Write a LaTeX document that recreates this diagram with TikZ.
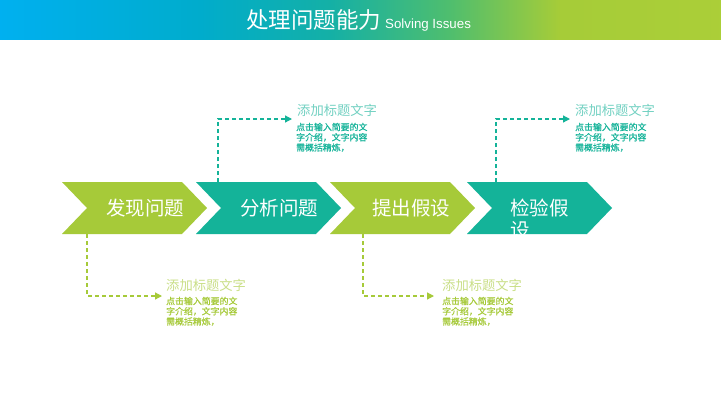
\documentclass[tikz,border=0pt]{standalone}
\usepackage{fontspec}
\setmainfont{Liberation Sans}
\newfontfamily\cjk{Noto Sans CJK SC}
\newfontfamily\cjkb[FakeBold=0.6]{Noto Sans CJK SC}
\usetikzlibrary{arrows.meta}
\definecolor{cgreen}{RGB}{166,202,57}
\definecolor{cteal}{RGB}{20,179,153}
\pgfdeclarehorizontalshading{hdr}{100bp}{rgb(0bp)=(0,0.69,0.94); rgb(25bp)=(0,0.69,0.94); rgb(38.9bp)=(0,0.675,0.80); rgb(47.9bp)=(0.08,0.69,0.65); rgb(56.2bp)=(0.31,0.745,0.43); rgb(63.8bp)=(0.65,0.80,0.22); rgb(75bp)=(0.67,0.81,0.22); rgb(100bp)=(0.67,0.81,0.22)}
\begin{document}
\begin{tikzpicture}[x=1pt,y=-1pt,
  chevlabel/.style={anchor=base west, inner sep=0pt, text=white, align=left, font=\cjk\fontsize{19.5}{22}\selectfont},
  conn/.style={draw=#1, dash pattern=on 4pt off 3pt, line width=1.2pt, -{Triangle[length=7pt,width=7pt,fill=#1]}},
  ttl/.style={anchor=base west, inner sep=0pt, text=#1, font=\cjk\fontsize{13.3}{16}\selectfont},
  body/.style={anchor=base west, inner sep=0pt, text=#1, align=left, font=\cjkb\fontsize{8.9}{10.2}\selectfont}]
\useasboundingbox (0,0) rectangle (721,405);
\fill[white] (0,0) rectangle (721,405);
% header
\shade[shading=hdr] (0,0) rectangle (721,39);
\node[anchor=base west, inner sep=0pt, text=white] (title) at (246,28)
  {{\cjk\fontsize{22.5}{26}\selectfont 处理问题能力}\hspace{4pt}{\fontsize{13.3}{16}\selectfont Solving Issues}};
% chevrons
\foreach \L/\c in {62/cgreen,196/cteal,330/cgreen,467/cteal}{
  \fill[\c] (\L,182) -- ++(120,0) -- ++(25,26) -- ++(-25,26) -- ++(-120,0) -- ++(25,-26) -- cycle;
}
\node[chevlabel] (s1) at (106,215.4) {发现问题};
\node[chevlabel] (s2) at (240,215.4) {分析问题};
\node[chevlabel] (s3) at (372,215.4) {提出假设};
\node[chevlabel] (s4) at (510,237.4) {检验假\\设};
% connector coordinates
\coordinate (a1) at (218,182);
\coordinate (a2) at (496,182);
\coordinate (b1) at (87,234);
\coordinate (b2) at (363,234);
\coordinate (ae1) at (292,119);
\coordinate (ae2) at (570,119);
\coordinate (be1) at (162,296);
\coordinate (be2) at (434,296);
\draw[conn=cteal] (a1) |- (ae1);
\draw[conn=cteal] (a2) |- (ae2);
\draw[conn=cgreen] (b1) |- (be1);
\draw[conn=cgreen] (b2) |- (be2);
% text blocks
\node[ttl=cteal!60!white] (t1) at (297,115) {添加标题文字};
\node[body=cteal] (d1) at (296,150.8) {点击输入简要的文\\字介绍，文字内容\\需概括精炼，};
\node[ttl=cteal!60!white] (t2) at (575,115) {添加标题文字};
\node[body=cteal] (d2) at (575,150.8) {点击输入简要的文\\字介绍，文字内容\\需概括精炼，};
\node[ttl=cgreen!60!white] (t3) at (166,290) {添加标题文字};
\node[body=cgreen] (d3) at (166,324.8) {点击输入简要的文\\字介绍，文字内容\\需概括精炼，};
\node[ttl=cgreen!60!white] (t4) at (442,290) {添加标题文字};
\node[body=cgreen] (d4) at (442,324.8) {点击输入简要的文\\字介绍，文字内容\\需概括精炼，};
\end{tikzpicture}
\end{document}
